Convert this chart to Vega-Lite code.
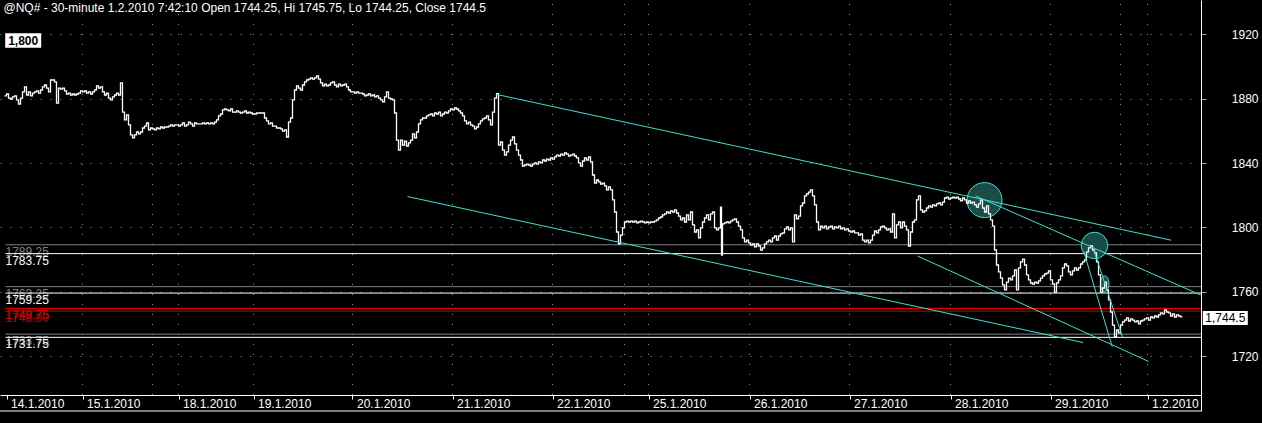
{
  "$schema": "https://vega.github.io/schema/vega-lite/v6.json",
  "width": 1201,
  "height": 411,
  "autosize": {"type": "none"},
  "padding": {"left": 0, "top": 0, "right": 61, "bottom": 12},
  "background": "#000000",
  "config": {"view": {"stroke": null}, "font": "Liberation Sans"},
  "datasets": {
    "price": [
{"b":2,"p":1881.7},{"b":3,"p":1882.9},{"b":4,"p":1880.4},{"b":5,"p":1879.8},{"b":6,"p":1881.1},{"b":7,"p":1881.7},{"b":8,"p":1879.2},{"b":9,"p":1876.7},{"b":10,"p":1880.4},{"b":11,"p":1884.2},
{"b":12,"p":1887.3},{"b":13,"p":1882.3},{"b":14,"p":1884.2},{"b":15,"p":1881.7},{"b":16,"p":1883.5},{"b":17,"p":1884.2},{"b":18,"p":1884.8},{"b":19,"p":1883.5},{"b":20,"p":1885.4},{"b":21,"p":1887.3},
{"b":22,"p":1888.5},{"b":23,"p":1886.6},{"b":24,"p":1884.2},{"b":25,"p":1891.6},{"b":26,"p":1891.6},{"b":27,"p":1890.4},{"b":28,"p":1877.3},{"b":29,"p":1886.6},{"b":30,"p":1886.0},{"b":31,"p":1886.6},
{"b":32,"p":1884.8},{"b":33,"p":1882.9},{"b":34,"p":1883.5},{"b":35,"p":1882.3},{"b":36,"p":1882.9},{"b":37,"p":1882.3},{"b":38,"p":1882.9},{"b":39,"p":1883.5},{"b":40,"p":1884.8},{"b":41,"p":1884.2},
{"b":42,"p":1884.8},{"b":43,"p":1883.5},{"b":44,"p":1884.2},{"b":45,"p":1882.9},{"b":46,"p":1884.2},{"b":47,"p":1885.4},{"b":48,"p":1887.9},{"b":49,"p":1886.6},{"b":50,"p":1887.3},{"b":51,"p":1884.2},
{"b":52,"p":1882.3},{"b":53,"p":1883.5},{"b":54,"p":1880.4},{"b":55,"p":1879.2},{"b":56,"p":1881.1},{"b":57,"p":1882.3},{"b":58,"p":1883.5},{"b":59,"p":1882.3},{"b":60,"p":1889.8},{"b":61,"p":1871.7},
{"b":62,"p":1866.8},{"b":63,"p":1869.9},{"b":64,"p":1863.7},{"b":65,"p":1857.5},{"b":66,"p":1855.6},{"b":67,"p":1857.5},{"b":68,"p":1859.3},{"b":69,"p":1858.1},{"b":70,"p":1859.3},{"b":71,"p":1861.8},
{"b":72,"p":1863.0},{"b":73,"p":1864.9},{"b":74,"p":1860.6},{"b":75,"p":1861.8},{"b":76,"p":1861.2},{"b":77,"p":1860.6},{"b":78,"p":1861.8},{"b":79,"p":1861.2},{"b":80,"p":1862.4},{"b":81,"p":1861.8},
{"b":82,"p":1862.4},{"b":83,"p":1862.4},{"b":84,"p":1863.0},{"b":85,"p":1863.7},{"b":86,"p":1863.0},{"b":87,"p":1863.7},{"b":88,"p":1863.7},{"b":89,"p":1863.0},{"b":90,"p":1863.7},{"b":91,"p":1864.9},
{"b":92,"p":1863.0},{"b":93,"p":1863.7},{"b":94,"p":1865.5},{"b":95,"p":1864.3},{"b":96,"p":1863.0},{"b":97,"p":1864.9},{"b":98,"p":1864.3},{"b":99,"p":1864.3},{"b":100,"p":1864.3},{"b":101,"p":1864.9},
{"b":102,"p":1864.3},{"b":103,"p":1864.9},{"b":104,"p":1864.3},{"b":105,"p":1864.9},{"b":106,"p":1864.3},{"b":107,"p":1865.5},{"b":108,"p":1866.8},{"b":109,"p":1869.3},{"b":110,"p":1870.5},{"b":111,"p":1873.0},
{"b":112,"p":1873.6},{"b":113,"p":1873.0},{"b":114,"p":1872.4},{"b":115,"p":1873.6},{"b":116,"p":1871.7},{"b":117,"p":1871.7},{"b":118,"p":1872.4},{"b":119,"p":1871.7},{"b":120,"p":1871.1},{"b":121,"p":1871.7},
{"b":122,"p":1872.4},{"b":123,"p":1871.1},{"b":124,"p":1871.7},{"b":125,"p":1871.1},{"b":126,"p":1870.5},{"b":127,"p":1870.5},{"b":128,"p":1871.1},{"b":129,"p":1871.1},{"b":130,"p":1871.1},{"b":131,"p":1871.1},
{"b":132,"p":1868.0},{"b":133,"p":1866.2},{"b":134,"p":1864.3},{"b":135,"p":1864.9},{"b":136,"p":1863.0},{"b":137,"p":1863.0},{"b":138,"p":1861.8},{"b":139,"p":1861.8},{"b":140,"p":1861.2},{"b":141,"p":1859.9},
{"b":142,"p":1860.6},{"b":143,"p":1856.2},{"b":144,"p":1865.5},{"b":145,"p":1868.0},{"b":146,"p":1879.2},{"b":147,"p":1885.4},{"b":148,"p":1887.9},{"b":149,"p":1886.6},{"b":150,"p":1885.4},{"b":151,"p":1888.5},
{"b":152,"p":1890.4},{"b":153,"p":1891.6},{"b":154,"p":1892.2},{"b":155,"p":1892.9},{"b":156,"p":1892.2},{"b":157,"p":1892.9},{"b":158,"p":1894.1},{"b":159,"p":1892.2},{"b":160,"p":1889.8},{"b":161,"p":1887.9},
{"b":162,"p":1889.1},{"b":163,"p":1887.9},{"b":164,"p":1888.5},{"b":165,"p":1889.8},{"b":166,"p":1890.4},{"b":167,"p":1888.5},{"b":168,"p":1887.3},{"b":169,"p":1889.1},{"b":170,"p":1887.9},{"b":171,"p":1888.5},
{"b":172,"p":1889.1},{"b":173,"p":1887.3},{"b":174,"p":1885.4},{"b":175,"p":1884.2},{"b":176,"p":1884.2},{"b":177,"p":1883.5},{"b":178,"p":1884.2},{"b":179,"p":1883.5},{"b":180,"p":1883.5},{"b":181,"p":1882.9},
{"b":182,"p":1881.7},{"b":183,"p":1882.3},{"b":184,"p":1882.9},{"b":185,"p":1881.7},{"b":186,"p":1882.3},{"b":187,"p":1881.1},{"b":188,"p":1881.7},{"b":189,"p":1880.4},{"b":190,"p":1879.2},{"b":191,"p":1878.0},
{"b":192,"p":1881.1},{"b":193,"p":1884.2},{"b":194,"p":1880.4},{"b":195,"p":1879.8},{"b":196,"p":1879.2},{"b":197,"p":1871.1},{"b":198,"p":1854.3},{"b":199,"p":1848.1},{"b":200,"p":1854.3},{"b":201,"p":1851.2},
{"b":202,"p":1853.7},{"b":203,"p":1850.6},{"b":204,"p":1852.5},{"b":205,"p":1854.3},{"b":206,"p":1858.1},{"b":207,"p":1855.6},{"b":208,"p":1859.3},{"b":209,"p":1864.3},{"b":210,"p":1866.8},{"b":211,"p":1868.0},
{"b":212,"p":1868.0},{"b":213,"p":1869.3},{"b":214,"p":1869.9},{"b":215,"p":1870.5},{"b":216,"p":1869.3},{"b":217,"p":1871.1},{"b":218,"p":1870.5},{"b":219,"p":1871.7},{"b":220,"p":1869.3},{"b":221,"p":1870.5},
{"b":222,"p":1871.7},{"b":223,"p":1871.1},{"b":224,"p":1872.4},{"b":225,"p":1873.6},{"b":226,"p":1873.0},{"b":227,"p":1874.2},{"b":228,"p":1873.6},{"b":229,"p":1872.4},{"b":230,"p":1871.1},{"b":231,"p":1869.3},
{"b":232,"p":1866.2},{"b":233,"p":1864.3},{"b":234,"p":1865.5},{"b":235,"p":1863.7},{"b":236,"p":1863.0},{"b":237,"p":1861.2},{"b":238,"p":1862.4},{"b":239,"p":1864.3},{"b":240,"p":1866.2},{"b":241,"p":1867.4},
{"b":242,"p":1868.0},{"b":243,"p":1869.3},{"b":244,"p":1866.8},{"b":245,"p":1863.7},{"b":246,"p":1871.7},{"b":247,"p":1880.4},{"b":248,"p":1883.2},{"b":249,"p":1851.2},{"b":250,"p":1853.1},{"b":251,"p":1848.1},
{"b":252,"p":1845.0},{"b":253,"p":1846.9},{"b":254,"p":1851.2},{"b":255,"p":1854.3},{"b":256,"p":1856.2},{"b":257,"p":1851.9},{"b":258,"p":1848.1},{"b":259,"p":1845.0},{"b":260,"p":1841.9},{"b":261,"p":1838.2},
{"b":262,"p":1838.8},{"b":263,"p":1839.4},{"b":264,"p":1838.8},{"b":265,"p":1838.2},{"b":266,"p":1839.4},{"b":267,"p":1840.1},{"b":268,"p":1839.4},{"b":269,"p":1840.7},{"b":270,"p":1840.1},{"b":271,"p":1841.9},
{"b":272,"p":1841.3},{"b":273,"p":1842.5},{"b":274,"p":1841.9},{"b":275,"p":1843.2},{"b":276,"p":1842.5},{"b":277,"p":1843.8},{"b":278,"p":1845.0},{"b":279,"p":1844.4},{"b":280,"p":1845.6},{"b":281,"p":1845.0},
{"b":282,"p":1846.3},{"b":283,"p":1845.6},{"b":284,"p":1844.4},{"b":285,"p":1845.0},{"b":286,"p":1845.6},{"b":287,"p":1844.4},{"b":288,"p":1843.2},{"b":289,"p":1840.1},{"b":290,"p":1838.2},{"b":291,"p":1841.3},
{"b":292,"p":1843.2},{"b":293,"p":1841.9},{"b":294,"p":1843.8},{"b":295,"p":1840.7},{"b":296,"p":1832.6},{"b":297,"p":1827.6},{"b":298,"p":1829.5},{"b":299,"p":1828.3},{"b":300,"p":1827.0},{"b":301,"p":1827.6},
{"b":302,"p":1825.8},{"b":303,"p":1823.3},{"b":304,"p":1825.2},{"b":305,"p":1823.3},{"b":306,"p":1817.1},{"b":307,"p":1809.6},{"b":308,"p":1797.2},{"b":309,"p":1789.8},{"b":310,"p":1795.3},{"b":311,"p":1799.7},
{"b":312,"p":1803.4},{"b":313,"p":1804.0},{"b":314,"p":1803.4},{"b":315,"p":1804.0},{"b":316,"p":1803.4},{"b":317,"p":1804.0},{"b":318,"p":1802.8},{"b":319,"p":1803.4},{"b":320,"p":1804.0},{"b":321,"p":1803.4},
{"b":322,"p":1802.8},{"b":323,"p":1803.4},{"b":324,"p":1802.8},{"b":325,"p":1803.4},{"b":326,"p":1803.4},{"b":327,"p":1804.0},{"b":328,"p":1804.7},{"b":329,"p":1805.9},{"b":330,"p":1806.5},{"b":331,"p":1807.8},
{"b":332,"p":1808.4},{"b":333,"p":1809.6},{"b":334,"p":1809.0},{"b":335,"p":1810.3},{"b":336,"p":1809.6},{"b":337,"p":1810.9},{"b":338,"p":1809.0},{"b":339,"p":1807.1},{"b":340,"p":1804.7},{"b":341,"p":1805.9},
{"b":342,"p":1803.4},{"b":343,"p":1807.8},{"b":344,"p":1804.7},{"b":345,"p":1809.6},{"b":346,"p":1801.6},{"b":347,"p":1797.2},{"b":348,"p":1798.5},{"b":349,"p":1793.5},{"b":350,"p":1799.7},{"b":351,"p":1803.4},
{"b":352,"p":1805.9},{"b":353,"p":1807.8},{"b":354,"p":1804.7},{"b":355,"p":1808.4},{"b":356,"p":1809.6},{"b":357,"p":1799.7},{"b":358,"p":1798.5},{"b":359,"p":1799.7},{"b":360,"p":1812.7},{"b":360.5,"p":1782.9},
{"b":361,"p":1802.2},{"b":362,"p":1802.8},{"b":363,"p":1803.4},{"b":364,"p":1802.8},{"b":365,"p":1804.0},{"b":366,"p":1804.7},{"b":367,"p":1805.3},{"b":368,"p":1803.4},{"b":369,"p":1800.9},{"b":370,"p":1798.5},
{"b":371,"p":1793.5},{"b":372,"p":1791.0},{"b":373,"p":1792.2},{"b":374,"p":1790.4},{"b":375,"p":1789.1},{"b":376,"p":1789.8},{"b":377,"p":1787.9},{"b":378,"p":1789.8},{"b":379,"p":1788.5},{"b":380,"p":1786.0},
{"b":381,"p":1787.3},{"b":382,"p":1789.8},{"b":383,"p":1791.0},{"b":384,"p":1792.2},{"b":385,"p":1791.0},{"b":386,"p":1793.5},{"b":387,"p":1794.7},{"b":388,"p":1792.2},{"b":389,"p":1794.7},{"b":390,"p":1796.0},
{"b":391,"p":1796.6},{"b":392,"p":1799.1},{"b":393,"p":1800.3},{"b":394,"p":1798.5},{"b":395,"p":1799.7},{"b":396,"p":1791.0},{"b":397,"p":1807.8},{"b":398,"p":1805.3},{"b":399,"p":1807.1},{"b":400,"p":1813.4},
{"b":401,"p":1815.2},{"b":402,"p":1819.6},{"b":403,"p":1820.8},{"b":404,"p":1822.0},{"b":405,"p":1823.3},{"b":406,"p":1819.6},{"b":407,"p":1814.0},{"b":408,"p":1803.4},{"b":409,"p":1798.5},{"b":410,"p":1800.9},
{"b":411,"p":1799.7},{"b":412,"p":1800.9},{"b":413,"p":1799.1},{"b":414,"p":1800.3},{"b":415,"p":1800.9},{"b":416,"p":1799.1},{"b":417,"p":1800.3},{"b":418,"p":1799.7},{"b":419,"p":1800.9},{"b":420,"p":1799.1},
{"b":421,"p":1799.7},{"b":422,"p":1798.5},{"b":423,"p":1799.1},{"b":424,"p":1797.8},{"b":425,"p":1797.2},{"b":426,"p":1797.8},{"b":427,"p":1796.6},{"b":428,"p":1796.6},{"b":429,"p":1795.3},{"b":430,"p":1796.0},
{"b":431,"p":1792.2},{"b":432,"p":1791.0},{"b":433,"p":1792.2},{"b":434,"p":1790.4},{"b":435,"p":1792.2},{"b":436,"p":1795.3},{"b":437,"p":1797.8},{"b":438,"p":1796.6},{"b":439,"p":1798.5},{"b":440,"p":1800.3},
{"b":441,"p":1800.9},{"b":442,"p":1799.7},{"b":443,"p":1798.5},{"b":444,"p":1799.1},{"b":445,"p":1797.2},{"b":446,"p":1808.4},{"b":447,"p":1793.5},{"b":448,"p":1801.6},{"b":449,"p":1803.4},{"b":450,"p":1799.7},
{"b":451,"p":1803.4},{"b":452,"p":1800.9},{"b":453,"p":1798.5},{"b":454,"p":1788.5},{"b":455,"p":1797.2},{"b":456,"p":1803.4},{"b":457,"p":1804.7},{"b":458,"p":1817.1},{"b":459,"p":1819.6},{"b":460,"p":1810.9},
{"b":461,"p":1809.6},{"b":462,"p":1810.3},{"b":463,"p":1812.1},{"b":464,"p":1813.4},{"b":465,"p":1812.7},{"b":466,"p":1814.0},{"b":467,"p":1813.4},{"b":468,"p":1814.6},{"b":469,"p":1815.2},{"b":470,"p":1814.0},
{"b":471,"p":1815.8},{"b":472,"p":1818.3},{"b":473,"p":1818.9},{"b":474,"p":1817.7},{"b":475,"p":1818.3},{"b":476,"p":1818.9},{"b":477,"p":1818.3},{"b":478,"p":1818.9},{"b":479,"p":1817.7},{"b":480,"p":1816.5},
{"b":481,"p":1818.3},{"b":482,"p":1817.1},{"b":483,"p":1815.2},{"b":484,"p":1816.5},{"b":485,"p":1815.2},{"b":486,"p":1815.8},{"b":487,"p":1814.0},{"b":488,"p":1812.7},{"b":489,"p":1814.6},{"b":490,"p":1817.1},
{"b":491,"p":1812.1},{"b":492,"p":1809.6},{"b":493,"p":1813.4},{"b":494,"p":1808.4},{"b":495,"p":1804.7},{"b":496,"p":1800.9},{"b":497,"p":1786.0},{"b":498,"p":1776.7},{"b":499,"p":1772.4},{"b":500,"p":1768.6},
{"b":501,"p":1764.3},{"b":502,"p":1761.2},{"b":503,"p":1766.1},{"b":504,"p":1768.6},{"b":505,"p":1767.4},{"b":506,"p":1769.9},{"b":507,"p":1773.6},{"b":508,"p":1761.2},{"b":509,"p":1774.9},{"b":510,"p":1778.6},
{"b":511,"p":1780.4},{"b":512,"p":1776.7},{"b":513,"p":1770.5},{"b":514,"p":1767.4},{"b":515,"p":1765.5},{"b":516,"p":1764.9},{"b":517,"p":1766.1},{"b":518,"p":1765.5},{"b":519,"p":1766.8},{"b":520,"p":1768.6},
{"b":521,"p":1769.9},{"b":522,"p":1771.1},{"b":523,"p":1771.7},{"b":524,"p":1773.0},{"b":525,"p":1767.4},{"b":526,"p":1764.9},{"b":527,"p":1759.9},{"b":528,"p":1765.5},{"b":529,"p":1767.4},{"b":530,"p":1769.9},
{"b":531,"p":1774.9},{"b":532,"p":1777.3},{"b":533,"p":1776.1},{"b":534,"p":1772.4},{"b":535,"p":1770.5},{"b":536,"p":1773.0},{"b":537,"p":1774.9},{"b":538,"p":1773.6},{"b":539,"p":1774.9},{"b":540,"p":1777.3},
{"b":541,"p":1778.6},{"b":542,"p":1779.8},{"b":543,"p":1784.8},{"b":544,"p":1787.3},{"b":545,"p":1788.5},{"b":546,"p":1786.0},{"b":547,"p":1784.2},{"b":548,"p":1778.6},{"b":549,"p":1770.5},{"b":550,"p":1759.9},
{"b":551,"p":1762.4},{"b":552,"p":1766.1},{"b":553,"p":1761.2},{"b":554,"p":1755.0},{"b":555,"p":1747.5},{"b":556,"p":1739.4},{"b":557,"p":1732.0},{"b":558,"p":1736.3},{"b":559,"p":1734.5},{"b":560,"p":1739.4},
{"b":561,"p":1741.3},{"b":562,"p":1742.5},{"b":563,"p":1743.8},{"b":564,"p":1741.9},{"b":565,"p":1743.2},{"b":566,"p":1742.5},{"b":567,"p":1741.3},{"b":568,"p":1741.9},{"b":569,"p":1740.1},{"b":570,"p":1741.9},
{"b":571,"p":1742.5},{"b":572,"p":1743.2},{"b":573,"p":1743.8},{"b":574,"p":1742.5},{"b":575,"p":1744.4},{"b":576,"p":1743.8},{"b":577,"p":1745.0},{"b":578,"p":1744.4},{"b":579,"p":1745.7},{"b":580,"p":1746.9},
{"b":581,"p":1746.3},{"b":582,"p":1748.8},{"b":583,"p":1747.5},{"b":584,"p":1746.9},{"b":585,"p":1745.0},{"b":586,"p":1746.3},{"b":587,"p":1744.4},{"b":588,"p":1745.7},{"b":589,"p":1745.0},{"b":590,"p":1744.5},
{"b":591,"p":1744.5}
    ],
    "levels": [
      {"v": 1789.25, "label": "1789.25", "k": "gray"},
      {"v": 1783.75, "label": "1783.75", "k": "white"},
      {"v": 1763.25, "label": "1763.25", "k": "gray"},
      {"v": 1759.25, "label": "1759.25", "k": "white"},
      {"v": 1749.75, "label": "1749.75", "k": "red"},
      {"v": 1748.0, "label": "1748.00", "k": "darkred"},
      {"v": 1733.75, "label": "1733.75", "k": "gray"},
      {"v": 1731.75, "label": "1731.75", "k": "white"}
    ],
    "trend": [
      {"id": "a", "b": 247.85, "p": 1882.7}, {"id": "a", "b": 585.35, "p": 1792.1},
      {"id": "b", "b": 203.5, "p": 1819.2}, {"id": "b", "b": 541.35, "p": 1728.5},
      {"id": "c", "b": 458.5, "p": 1782.3}, {"id": "c", "b": 574, "p": 1716.8},
      {"id": "d", "b": 487.5, "p": 1819.6}, {"id": "d", "b": 600, "p": 1758.1},
      {"id": "e", "b": 541.65, "p": 1785.0}, {"id": "e", "b": 555.85, "p": 1726.0},
      {"id": "f", "b": 546.5, "p": 1786.6}, {"id": "f", "b": 561, "p": 1732.0}
    ],
    "circles": [
      {"c": "big", "b": 492, "p": 1817.0},
      {"c": "mid", "b": 547, "p": 1788.8},
      {"c": "small", "b": 552.1, "p": 1765.0}
    ],
    "vgrid": [
      {"b": 41}, {"b": 76}, {"b": 89}, {"b": 126.5}, {"b": 176}, {"b": 226}, {"b": 276},
      {"b": 312}, {"b": 324}, {"b": 374.5}, {"b": 424.5}, {"b": 475}, {"b": 525}, {"b": 560}, {"b": 573.5}
    ]
  },
  "layer": [
    {
      "data": {"name": "vgrid"},
      "mark": {"type": "rule", "color": "#9a9a9a", "strokeWidth": 1, "strokeDash": [1, 9]},
      "encoding": {
        "x": {"field": "b", "type": "quantitative"},
        "y": {"datum": 1696},
        "y2": {"datum": 1941.3}
      }
    },
    {
      "data": {"name": "levels"},
      "mark": {"type": "text", "align": "left", "baseline": "alphabetic", "dy": 11, "fontSize": 12, "font": "Liberation Sans"},
      "encoding": {
        "x": {"datum": 2.5},
        "y": {"field": "v", "type": "quantitative"},
        "text": {"field": "label"},
        "color": {"field": "k", "type": "nominal", "legend": null,
          "scale": {"domain": ["gray", "white", "red", "darkred"], "range": ["#808080", "#ffffff", "#ff0000", "#c00000"]}}
      }
    },
    {
      "data": {"name": "levels"},
      "mark": {"type": "rule", "strokeWidth": 1},
      "encoding": {
        "x": {"datum": 2.5},
        "x2": {"datum": 600.25},
        "y": {"field": "v", "type": "quantitative"},
        "color": {"field": "k", "type": "nominal", "legend": null}
      }
    },
    {
      "data": {"name": "circles"},
      "transform": [{"filter": "datum.c === 'big'"}],
      "mark": {"type": "point", "shape": "circle", "filled": false, "size": 1225, "fill": "#1b4b46", "fillOpacity": 1, "stroke": "#40e0d0", "strokeWidth": 1},
      "encoding": {
        "x": {"field": "b", "type": "quantitative"},
        "y": {"field": "p", "type": "quantitative"}
      }
    },
    {
      "data": {"name": "circles"},
      "transform": [{"filter": "datum.c === 'mid'"}],
      "mark": {"type": "point", "shape": "circle", "filled": false, "size": 702, "fill": "#1b4b46", "fillOpacity": 1, "stroke": "#40e0d0", "strokeWidth": 1},
      "encoding": {
        "x": {"field": "b", "type": "quantitative"},
        "y": {"field": "p", "type": "quantitative"}
      }
    },
    {
      "data": {"name": "circles"},
      "transform": [{"filter": "datum.c === 'small'"}],
      "mark": {"type": "point", "shape": "M0,-1A0.53,1,0,1,1,0,1A0.53,1,0,1,1,0,-1Z", "filled": false, "size": 256, "fill": "#1b4b46", "fillOpacity": 1, "stroke": "#40e0d0", "strokeWidth": 1},
      "encoding": {
        "x": {"field": "b", "type": "quantitative"},
        "y": {"field": "p", "type": "quantitative"}
      }
    },
    {
      "data": {"name": "price"},
      "mark": {"type": "line", "interpolate": "step-after", "color": "#ffffff", "strokeWidth": 1.3},
      "encoding": {
        "x": {"field": "b", "type": "quantitative",
          "scale": {"domain": [-0.25, 600.25], "nice": false, "zero": false},
          "axis": {
            "values": [3, 41, 89, 126.5, 176, 226, 276, 324, 374.5, 424.5, 475, 525, 573.5],
            "labelExpr": "['14.1.2010','15.1.2010','18.1.2010','19.1.2010','20.1.2010','21.1.2010','22.1.2010','25.1.2010','26.1.2010','27.1.2010','28.1.2010','29.1.2010','1.2.2010'][indexof([3,41,89,126.5,176,226,276,324,374.5,424.5,475,525,573.5], datum.value)]",
            "offset": -16, "domainColor": "#ffffff", "domainWidth": 1, "tickColor": "#ffffff", "tickSize": 4, "tickWidth": 1,
            "labelColor": "#ffffff", "labelFont": "Liberation Sans", "labelFontSize": 12, "labelAlign": "left",
            "labelOffset": 4, "labelPadding": -1, "labelBaseline": "top", "labelOverlap": false, "labelBound": false,
            "labelFlush": false, "grid": false, "title": null
          }
        },
        "y": {"field": "p", "type": "quantitative",
          "scale": {"domain": [1686, 1941.3], "nice": false, "zero": false},
          "axis": {
            "orient": "right", "values": [1720, 1760, 1800, 1840, 1880, 1920], "format": "d",
            "domainColor": "#ffffff", "domainWidth": 1, "tickColor": "#a0a0a0", "tickSize": 5,
            "labelColor": "#ffffff", "labelFont": "Liberation Sans", "labelFontSize": 12, "labelAlign": "right",
            "labelPadding": 52, "labelBaseline": "middle", "labelBound": false, "labelFlush": false, "labelOverlap": false,
            "grid": true, "gridColor": "#9a9a9a", "gridDash": [1, 9], "gridWidth": 1, "title": null
          }
        }
      }
    },
    {
      "data": {"name": "trend"},
      "mark": {"type": "line", "color": "#40e0d0", "strokeWidth": 1},
      "encoding": {
        "x": {"field": "b", "type": "quantitative"},
        "y": {"field": "p", "type": "quantitative"},
        "detail": {"field": "id"}
      }
    },
    {
      "data": {"values": [{}]},
      "mark": {"type": "rule", "color": "#ffffff", "strokeWidth": 1},
      "encoding": {
        "x": {"datum": -0.25},
        "x2": {"datum": 600.25},
        "y": {"datum": 1686}
      }
    },
    {
      "data": {"values": [{}]},
      "mark": {"type": "text", "text": "@NQ# - 30-minute 1.2.2010 7:42:10 Open 1744.25, Hi 1745.75, Lo 1744.25, Close 1744.5", "align": "left", "baseline": "alphabetic", "color": "#ffffff", "fontSize": 12, "font": "Liberation Sans"},
      "encoding": {
        "x": {"datum": 1.5},
        "y": {"datum": 1933.7}
      }
    },
    {
      "data": {"values": [{}]},
      "mark": {"type": "rect", "color": "#ffffff"},
      "encoding": {
        "x": {"datum": 2.35},
        "x2": {"datum": 20.35},
        "y": {"datum": 1920.6},
        "y2": {"datum": 1911.7}
      }
    },
    {
      "data": {"values": [{}]},
      "mark": {"type": "text", "text": "1,800", "align": "center", "baseline": "middle", "color": "#000000", "fontSize": 12, "fontWeight": "bold", "font": "Liberation Sans"},
      "encoding": {
        "x": {"datum": 11.35},
        "y": {"datum": 1916.1}
      }
    },
    {
      "data": {"values": [{}]},
      "mark": {"type": "rect", "color": "#ffffff"},
      "encoding": {
        "x": {"datum": 601.15},
        "x2": {"datum": 623.65},
        "y": {"datum": 1748.1},
        "y2": {"datum": 1739.4}
      }
    },
    {
      "data": {"values": [{}]},
      "mark": {"type": "text", "text": "1,744.5", "align": "center", "baseline": "middle", "color": "#000000", "fontSize": 12, "font": "Liberation Sans"},
      "encoding": {
        "x": {"datum": 612.4},
        "y": {"datum": 1743.8}
      }
    }
  ]
}
